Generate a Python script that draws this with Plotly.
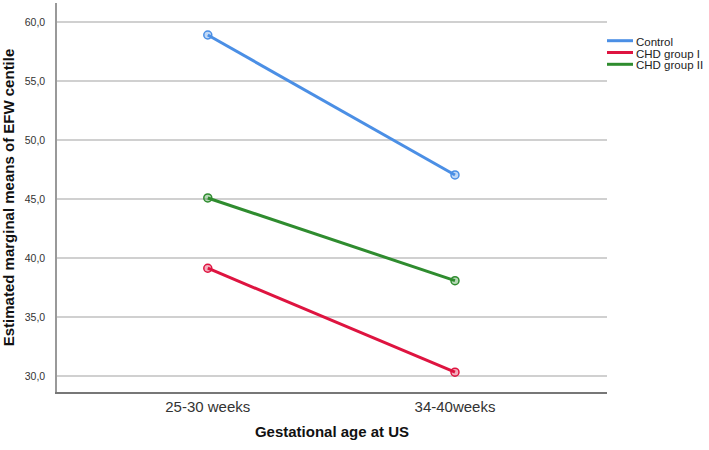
import plotly.graph_objects as go

categories = ["25-30 weeks", "34-40weeks"]
series_names = ["Control", "CHD group I", "CHD group II"]
control = [58.9, 47.05]
chd_group_1 = [39.15, 30.35]
chd_group_2 = [45.1, 38.1]
y_tick_vals = [30, 35, 40, 45, 50, 55, 60]
y_tick_text = ["30,0", "35,0", "40,0", "45,0", "50,0", "55,0", "60,0"]

colors = ["#4B8FE5", "#DE1440", "#2F8C2F"]
fills = ["rgba(75,143,229,0.35)", "rgba(222,20,64,0.35)", "rgba(47,140,47,0.35)"]
values = [control, chd_group_1, chd_group_2]

fig = go.Figure()
for name, vals, c, f in zip(series_names, values, colors, fills):
    fig.add_trace(go.Scatter(
        x=[0, 1], y=vals, mode="lines+markers", name=name,
        line=dict(color=c, width=3),
        marker=dict(symbol="circle", size=8, color=f, line=dict(color=c, width=1.5)),
        showlegend=False,
    ))

# manual legend
legend_y = [40.7, 52.5, 64.3]
for name, c, yy in zip(series_names, colors, legend_y):
    fig.add_shape(type="line", xref="paper", yref="paper",
                  x0=(607 - 57) / 550, x1=(633 - 57) / 550,
                  y0=(392 - yy) / 389, y1=(392 - yy) / 389,
                  line=dict(color=c, width=3))
    fig.add_annotation(xref="paper", yref="paper", x=(634 - 57) / 550, y=(392 - yy - 1) / 389,
                       text=name, showarrow=False, xanchor="left", yanchor="middle",
                       font=dict(family="Liberation Sans, Arial", size=11.5, color="#222"))

fig.update_layout(
    width=709, height=450,
    margin=dict(l=57, r=102, t=3, b=58, autoexpand=False),
    paper_bgcolor="white", plot_bgcolor="white",
    xaxis=dict(
        range=[-0.61, 1.615], tickvals=[0, 1], ticktext=categories,
        showgrid=False, zeroline=False, showline=True, linecolor="#777", linewidth=1.5,
        ticks="", automargin=False,
        tickfont=dict(family="Liberation Sans, Arial", size=15, color="#333"),
        title=dict(text="<b>Gestational age at US</b>", standoff=13,
                   font=dict(family="Liberation Sans, Arial", size=15, color="#111")),
    ),
    yaxis=dict(
        range=[28.67, 61.61], tickvals=y_tick_vals, ticktext=y_tick_text,
        showgrid=True, gridcolor="#D0D0D0", gridwidth=1.5, zeroline=False,
        showline=True, linecolor="#999", linewidth=1.5, ticks="", ticklen=0, automargin=False,
        ticklabelstandoff=8,
        tickfont=dict(family="Liberation Sans, Arial", size=10.5, color="#333"),
        title=dict(text="<b>Estimated marginal means of EFW centile</b>", standoff=12,
                   font=dict(family="Liberation Sans, Arial", size=15, color="#111")),
    ),
)

fig.write_html("out.html", config={"displayModeBar": False},
               post_script="document.body.style.margin='0';")
